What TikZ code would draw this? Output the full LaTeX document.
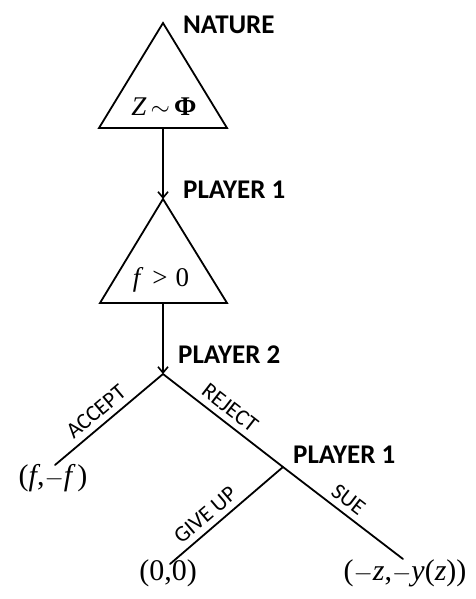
\documentclass[tikz,border=0pt]{standalone}
\usepackage{fontspec}
\setmainfont{Liberation Serif}
\newfontfamily\labelfont{Carlito}
\usetikzlibrary{arrows.meta}

\newcommand{\mn}{\ensuremath{-}}

\tikzset{
  edge/.style={line width=1.8pt, line cap=round},
  move/.style={line width=1.8pt, -{Straight Barb[length=6pt,width=10pt,line width=1.6pt]}},
  tri/.style={line width=1.8pt, line join=miter},
  who/.style={anchor=west, inner sep=0pt, font=\labelfont\bfseries\fontsize{27}{30}\selectfont},
  act/.style={sloped, above=3pt, inner sep=3pt, font=\labelfont\fontsize{22.5}{25}\selectfont},
  payoff/.style={inner sep=0pt, font=\fontsize{30}{34}\selectfont},
  info/.style={inner sep=0pt, font=\fontsize{27}{30}\selectfont},
}

\begin{document}
\begin{tikzpicture}[x=1pt, y=-1pt]
  \useasboundingbox (0,0) rectangle (475,599);

  % Nature's move: the claim size z is drawn from Phi
  \coordinate (natTop) at (163,23);
  \coordinate (natL) at (99,128);
  \coordinate (natR) at (227,128);
  \coordinate (natBot) at (163,128);
  \draw[tri] (natTop) -- (natL) -- (natR) -- cycle;
  \node[info] (natInfo) at (164,107) {\itshape Z\upshape$\,\sim\,$\textbf{Φ}};
  \node[who] (natLbl) at (183,25) {NATURE};

  % Player 1 chooses the offer f
  \coordinate (offTop) at (163,199);
  \coordinate (offL) at (100,303);
  \coordinate (offR) at (227,303);
  \coordinate (offBot) at (163,303);
  \draw[tri] (offTop) -- (offL) -- (offR) -- cycle;
  \node[info] (offInfo) at (161,280) {\itshape f\upshape\hspace{0.45em}>\hspace{0.3em}0};
  \node[who] (p1Lbl) at (183,190) {PLAYER 1};

  \draw[move] (natBot) -- (offTop);

  % Player 2 accepts or rejects
  \coordinate (p2) at (163,374);
  \node[who] (p2Lbl) at (178,355) {PLAYER 2};
  \draw[move] (offBot) -- (p2);

  \coordinate (accEnd) at (55,465);
  \coordinate (p1b) at (283,467);
  \coordinate (sueEnd) at (403,559);
  \coordinate (giveEnd) at (170,564);

  \draw[edge] (p2) -- node[act, pos=0.535] {ACCEPT} (accEnd);
  \draw[edge] (p2) -- node[act, pos=0.486] {REJECT} (p1b);
  \draw[edge] (p1b) -- node[act, pos=0.474] {SUE} (sueEnd);
  \draw[edge] (p1b) -- node[act, pos=0.606] {GIVE UP} (giveEnd);

  \node[who] (p1bLbl) at (293,455) {PLAYER 1};

  % Payoffs at the leaves
  \node[payoff] (payAcc) at (53,478) {(\itshape f\upshape,\mn\itshape f\upshape\,)};
  \node[payoff] (payGive) at (168,573) {(0,0)};
  \node[payoff] (paySue) at (405,573) {(\mn\itshape z\upshape,\mn\itshape y\upshape(\itshape z\upshape))};
\end{tikzpicture}
\end{document}
